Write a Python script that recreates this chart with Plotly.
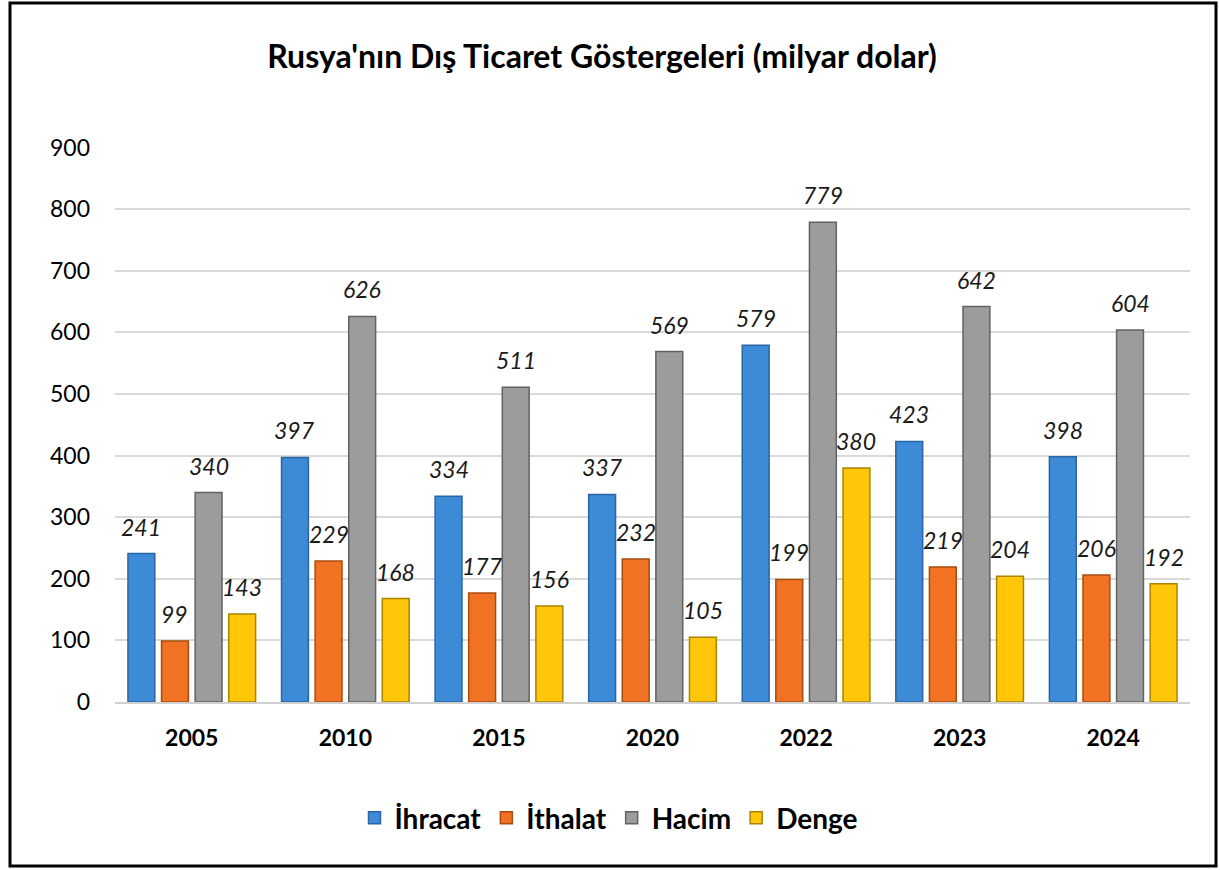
import plotly.graph_objects as go

years = ["2005", "2010", "2015", "2020", "2022", "2023", "2024"]
ihracat = [241, 397, 334, 337, 579, 423, 398]
ithalat = [99, 229, 177, 232, 199, 219, 206]
hacim = [340, 626, 511, 569, 779, 642, 604]
denge = [143, 168, 156, 105, 380, 204, 192]

series = [
    ("İhracat", ihracat, "#3d8ad6", "#2a66a3"),
    ("İthalat", ithalat, "#f07222", "#a84c0e"),
    ("Hacim", hacim, "#9c9c9c", "#626262"),
    ("Denge", denge, "#ffc60a", "#a98400"),
]

FONT = "Lato"
L, R, T, B = 115, 30, 147, 168
W, H = 1220, 870
pw = W - L - R
ph = H - T - B
BARGAP = 0.125

fig = go.Figure()
for name, vals, col, edge in series:
    fig.add_trace(go.Bar(
        x=years, y=vals, name=name,
        marker=dict(color=col, line=dict(color=edge, width=1.5)),
    ))

annotations = []
cat_px = pw / len(years)
pitch = cat_px * (1 - BARGAP) / 4
for i, (name, vals, col, edge) in enumerate(series):
    for j, v in enumerate(vals):
        annotations.append(dict(
            x=j, y=v, xref="x", yref="y", text=str(v), showarrow=False,
            xshift=(i - 1.5) * pitch, yshift=27, yanchor="middle",
            font=dict(family=FONT, size=23, color="#1a1a1a", style="italic"),
        ))

def px2x(px):
    return (px - L) / pw

def px2y(py):
    return (H - B - py) / ph

fig.update_layout(
    width=W, height=H,
    margin=dict(l=L, r=R, t=T, b=B),
    paper_bgcolor="white", plot_bgcolor="white",
    barmode="group", bargap=BARGAP, bargroupgap=0.2,
    title=dict(text="<b>Rusya'nın Dış Ticaret Göstergeleri (milyar dolar)</b>",
               x=px2x(602), xref="paper", xanchor="center", y=1 - 57 / H, yanchor="middle",
               font=dict(family=FONT, size=32, color="black")),
    font=dict(family=FONT, color="black"),
    xaxis=dict(type="category", range=[-0.5, len(years) - 0.5],
               showline=True, linecolor="#d0d0d0", linewidth=2,
               tickfont=dict(family=FONT, size=23, color="black", weight="bold"),
               ticks="", ticklabelstandoff=14),
    yaxis=dict(range=[0, 901], tickvals=[0, 100, 200, 300, 400, 500, 600, 700, 800, 900],
               showgrid=True, gridcolor="#d9d9d9",
               gridwidth=2, zeroline=False, showline=False,
               tickfont=dict(family=FONT, size=23, color="black"),
               ticks="", ticklabelstandoff=24),
    legend=dict(orientation="h", x=px2x(609), xanchor="center", y=px2y(818),
                yanchor="middle", font=dict(family=FONT, size=28, weight="bold"),
                itemwidth=30, traceorder="normal"),
    annotations=annotations,
    shapes=[dict(type="rect", xref="paper", yref="paper",
                 x0=px2x(10), x1=px2x(1216), y0=px2y(866), y1=px2y(3),
                 line=dict(color="black", width=3), fillcolor="rgba(0,0,0,0)",
                 layer="above")],
)

fig.write_html("out.html", config={"displayModeBar": False},
               post_script="document.body.style.margin='0';")
